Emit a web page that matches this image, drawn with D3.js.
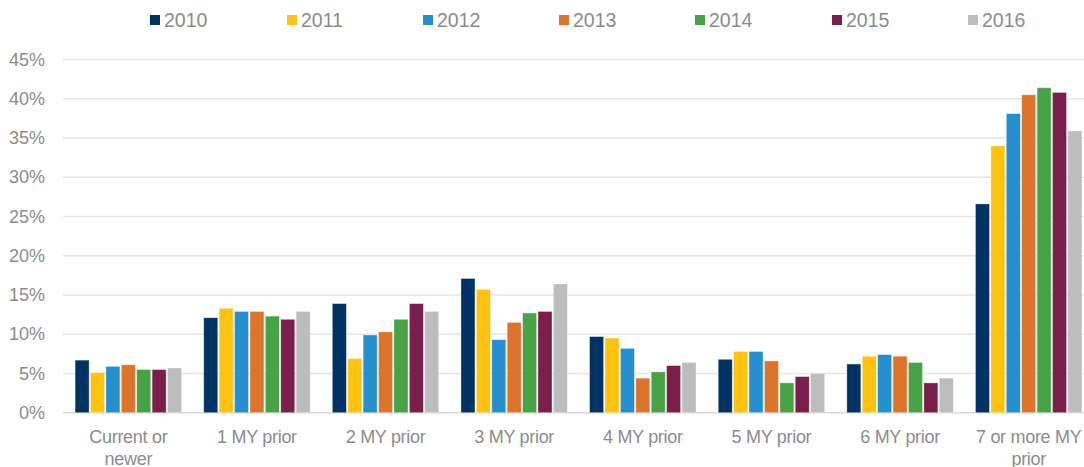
<!DOCTYPE html>
<html><head><meta charset="utf-8">
<script src="https://cdn.jsdelivr.net/npm/d3@7"></script>
<style>body{margin:0;background:#fff}svg{display:block;font-family:"Liberation Sans",Arial,sans-serif}</style>
</head><body><svg id="c" width="1084" height="467"></svg>
<script>
const categories = ["Current or newer","1 MY prior","2 MY prior","3 MY prior","4 MY prior","5 MY prior","6 MY prior","7 or more MY prior"];
const years = ["2010","2011","2012","2013","2014","2015","2016"];
const s2010 = [6.7,12.1,13.9,17.1,9.7,6.8,6.2,26.6];
const s2011 = [5.1,13.3,6.9,15.7,9.5,7.8,7.2,34.0];
const s2012 = [5.9,12.9,9.9,9.3,8.2,7.8,7.4,38.1];
const s2013 = [6.1,12.9,10.3,11.5,4.4,6.6,7.2,40.5];
const s2014 = [5.5,12.3,11.9,12.7,5.2,3.8,6.4,41.4];
const s2015 = [5.5,11.9,13.9,12.9,6.0,4.6,3.8,40.8];
const s2016 = [5.7,12.9,12.9,16.4,6.4,5.0,4.4,35.9];
const yTicks = [0,5,10,15,20,25,30,35,40,45];
const colors = ["#003264","#FFC20E","#258FD0","#DC742C","#48A246","#7A1F4B","#BCBDBE"];
const series = [s2010,s2011,s2012,s2013,s2014,s2015,s2016];

const svg = d3.select("#c");
const y = d3.scaleLinear().domain([0,45]).range([412.7,59.5]);
const x0 = d3.scaleBand().domain(categories).range([64,1093]).padding(0);
const x1 = d3.scaleBand().domain(years).range([0,x0.bandwidth()]).paddingInner(0.09).paddingOuter(0.72);

// grid
const g = svg.append("g");
g.selectAll("line").data(yTicks).join("line")
  .attr("x1",63).attr("x2",1084)
  .attr("y1",d=>y(d)).attr("y2",d=>y(d))
  .attr("stroke",d=>d===0?"#d9d9d9":"#e6e6e6").attr("stroke-width",1.5);

// y axis labels
const yAxis = d3.axisLeft(y).tickValues(yTicks).tickFormat(d=>d+"%").tickSize(0).tickPadding(0);
const ya = svg.append("g").attr("transform","translate(45,0)").call(yAxis);
ya.select(".domain").remove();
ya.selectAll("text").attr("fill","#8c8c8c").attr("font-size",18).attr("font-family","Liberation Sans, Arial, sans-serif");

// bars
const groups = svg.append("g").selectAll("g").data(categories).join("g")
  .attr("transform",d=>`translate(${x0(d)},0)`);
groups.selectAll("rect").data((c,i)=>years.map((yr,j)=>({yr,v:series[j][i],j}))).join("rect")
  .attr("x",d=>x1(d.yr)).attr("width",x1.bandwidth())
  .attr("y",d=>y(d.v)).attr("height",d=>y(0)-y(d.v))
  .attr("fill",d=>colors[d.j])
  .attr("stroke","rgba(255,255,255,0.45)").attr("stroke-width",0.8);

// x labels
const xAxis = d3.axisBottom(x0).tickSize(0).tickPadding(0);
const xa = svg.append("g").attr("transform","translate(0,0)").call(xAxis);
xa.select(".domain").remove();
xa.selectAll(".tick text").each(function(d){
  const t = d3.select(this);
  t.text(null).attr("fill","#8c8c8c").attr("font-size",18).attr("letter-spacing",-0.3).attr("font-family","Liberation Sans, Arial, sans-serif").attr("y",0).attr("dy",null);
  let lines = [d];
  if(d==="Current or newer") lines=["Current or","newer"];
  if(d==="7 or more MY prior") lines=["7 or more MY","prior"];
  lines.forEach((l,k)=>t.append("tspan").attr("x",0).attr("y",443+k*21.5).text(l));
});

// legend
const lg = svg.append("g");
const lx = [150,287,423,559,695,832,968];
years.forEach((yr,i)=>{
  lg.append("rect").attr("x",lx[i]).attr("y",15).attr("width",10).attr("height",10).attr("fill",colors[i]);
  lg.append("text").attr("x",lx[i]+14).attr("y",27.3).attr("fill","#8c8c8c").attr("font-size",19.5).text(yr);
});
</script></body></html>
